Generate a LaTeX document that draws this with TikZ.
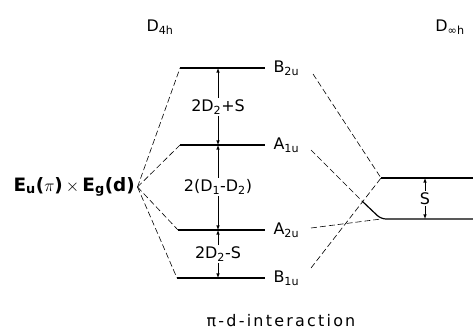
\documentclass[tikz,border=0pt]{standalone}
\usepackage{fontspec}
\setmainfont{DejaVu Sans}
\newfontfamily\capfont[LetterSpace=14]{DejaVu Sans}
\begin{document}
\begin{tikzpicture}[x=1bp,y=-1bp,font=\fontsize{16}{18}\selectfont,>=latex,
  level/.style={line width=1.2pt},
  corr/.style={dash pattern=on 6pt off 3pt,line width=0.6pt},
  gaparrow/.style={->,line width=0.6pt},
  gaplabel/.style={inner sep=1.5pt}]
  \useasboundingbox (0,0) rectangle (473,331);

  % group labels
  \node (D4h) at (160,27) {D\textsubscript{4h}};
  \node (Dinfh) at (450,27) {D\textsubscript{∞h}};

  % D4h levels
  \coordinate (b2uL) at (180,68);  \coordinate (b2uR) at (265,68);
  \coordinate (a1uL) at (180,145); \coordinate (a1uR) at (265,145);
  \coordinate (a2uL) at (178,230); \coordinate (a2uR) at (265,230);
  \coordinate (b1uL) at (177,278); \coordinate (b1uR) at (265,278);
  \foreach \lev in {b2u,a1u,a2u,b1u}
    \draw[level] (\lev L) -- (\lev R);

  \node[anchor=west] (B2u) at (270,68) {B\textsubscript{2u}};
  \node[anchor=west] (A1u) at (270,145) {A\textsubscript{1u}};
  \node[anchor=west] (A2u) at (270,230) {A\textsubscript{2u}};
  \node[anchor=west] (B1u) at (270,278) {B\textsubscript{1u}};

  % unperturbed pair and its splitting
  \node[anchor=east,inner sep=1pt,font=\fontsize{18.5}{20}\selectfont\bfseries] (EuEg) at (136,187)
    {E\textsubscript{u}($\pi$)\,$\times$\,E\textsubscript{g}(d)};
  \coordinate (fan) at ([xshift=1.5bp]EuEg.east);
  \foreach \lev in {b2u,a1u,a2u,b1u}
    \draw[corr] (fan) -- (\lev L);

  % splittings
  \node[gaplabel] (gapone) at (218,107) {2D\textsubscript{2}+S};
  \node[gaplabel] (gaptwo) at (218,187) {2(D\textsubscript{1}-D\textsubscript{2})};
  \node[gaplabel] (gapthree) at (218,254) {2D\textsubscript{2}-S};
  \draw[gaparrow] (gapone.north) -- (gapone.north |- b2uL);
  \draw[gaparrow] (gapone.south) -- (gapone.south |- a1uL);
  \draw[gaparrow] (gaptwo.north) -- (gaptwo.north |- a1uL);
  \draw[gaparrow] (gaptwo.south) -- (gaptwo.south |- a2uL);
  \draw[gaparrow] (gapthree.north) -- (gapthree.north |- a2uL);
  \draw[gaparrow] (gapthree.south) -- (gapthree.south |- b1uL);

  % Dinfh levels
  \coordinate (piuL) at (381,178); \coordinate (piuR) at (473,178);
  \coordinate (sguL) at (381,219); \coordinate (sguR) at (473,219);
  \coordinate (bend) at (362,201);
  \draw[level] (piuL) -- (piuR);
  \draw[level,rounded corners=5bp] (bend) -- (sguL) -- (sguR);

  \node[gaplabel] (Sgap) at (425,198.5) {S};
  \draw[gaparrow] (Sgap.north) -- (Sgap.north |- piuL);
  \draw[gaparrow] (Sgap.south) -- (Sgap.south |- sguL);

  % correlation
  \coordinate (b2ustart) at (313,74);
  \coordinate (a1ustart) at (311,150);
  \coordinate (a2ustart) at (311,228);
  \coordinate (b1ustart) at (311,268);
  \draw[corr] (b2ustart) -- (piuL);
  \draw[corr] (b1ustart) -- (piuL);
  \draw[corr] (a1ustart) -- (bend);
  \draw[corr] (a2ustart) -- (sguL);

  \node (caption) at (281,321) {\capfont π-d-interaction};

\end{tikzpicture}
\end{document}
